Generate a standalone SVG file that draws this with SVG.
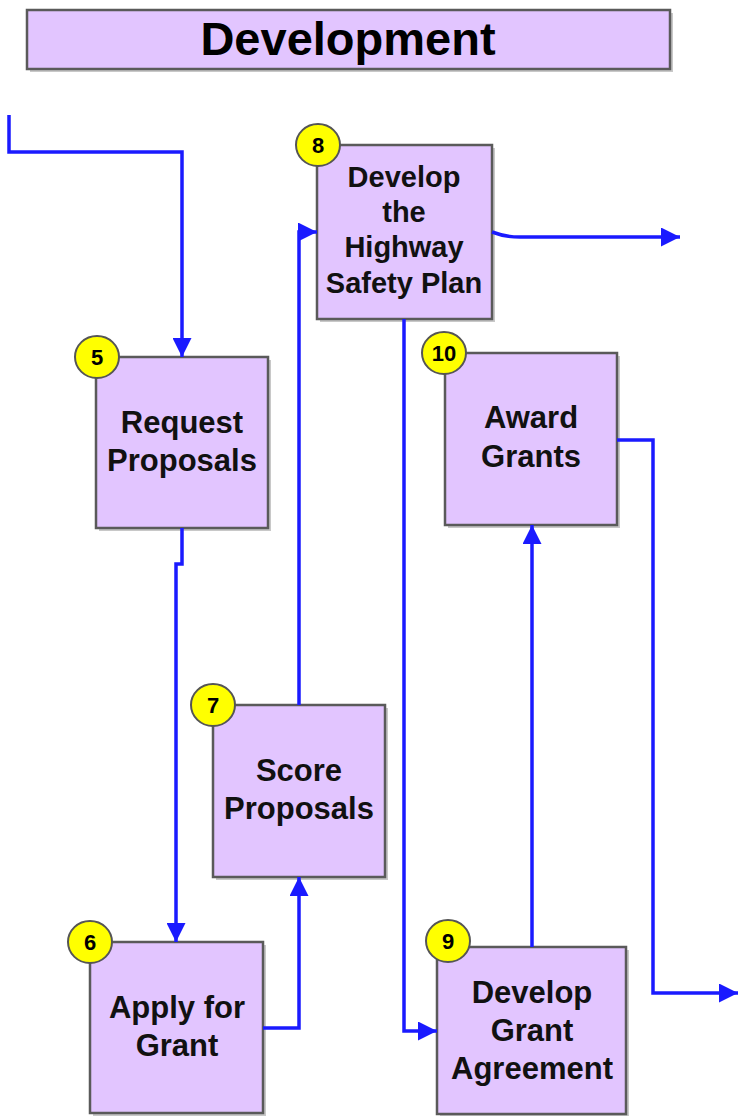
<svg xmlns="http://www.w3.org/2000/svg" width="739" height="1116" viewBox="0 0 739 1116">
<style>
.box{fill:#E2C5FF;stroke:#5a5a5a;stroke-width:2.5}
.shadow{fill:#c8c8c8}
.badge{fill:#FFFF00;stroke:#555;stroke-width:2}
.num{font-family:"Liberation Sans",Arial,sans-serif;font-weight:bold;font-size:22px;fill:#000;text-anchor:middle}
.lbl{font-family:"Liberation Sans",Arial,sans-serif;font-weight:bold;font-size:31px;fill:#111;text-anchor:middle}
.lbl8{font-size:29px}
.title{font-family:"Liberation Sans",Arial,sans-serif;font-weight:bold;font-size:47px;fill:#000;text-anchor:middle}
.conn{fill:none;stroke:#1a1aff;stroke-width:3.5}
</style>
<defs>
<marker id="arr" viewBox="0 0 18 18" refX="18" refY="9" markerWidth="19" markerHeight="19" markerUnits="userSpaceOnUse" orient="auto">
<path d="M0,0 L18,9 L0,18 z" fill="#1a1aff"/>
</marker>
</defs>
<rect width="739" height="1116" fill="#fff"/>
<g id="title">
<rect class="shadow" x="30" y="13" width="643" height="59"/>
<rect class="box" x="27" y="10" width="643" height="59" stroke="#777"/>
<text class="title" x="348" y="55">Development</text>
</g>
<g id="n5">
<rect class="shadow" x="99" y="360" width="172" height="171"/>
<rect class="box" x="96" y="357" width="172" height="171"/>
<text class="lbl" x="182" y="433">Request</text>
<text class="lbl" x="182" y="471">Proposals</text>
<ellipse class="badge" cx="97" cy="357" rx="22" ry="21"/>
<text class="num" x="97" y="365">5</text>
</g>
<g id="n8">
<rect class="shadow" x="320" y="148" width="175" height="174"/>
<rect class="box" x="317" y="145" width="175" height="174"/>
<text class="lbl lbl8" x="404" y="187">Develop</text>
<text class="lbl lbl8" x="404" y="222">the</text>
<text class="lbl lbl8" x="404" y="257">Highway</text>
<text class="lbl lbl8" x="404" y="293">Safety Plan</text>
<ellipse class="badge" cx="318" cy="145" rx="22" ry="21"/>
<text class="num" x="318" y="153">8</text>
</g>
<g id="n10">
<rect class="shadow" x="448" y="356" width="172" height="172"/>
<rect class="box" x="445" y="353" width="172" height="172"/>
<text class="lbl" x="531" y="428">Award</text>
<text class="lbl" x="531" y="467">Grants</text>
<ellipse class="badge" cx="444" cy="353" rx="22" ry="21"/>
<text class="num" x="444" y="361">10</text>
</g>
<g id="n7">
<rect class="shadow" x="216" y="708" width="172" height="172"/>
<rect class="box" x="213" y="705" width="172" height="172"/>
<text class="lbl" x="299" y="781">Score</text>
<text class="lbl" x="299" y="819">Proposals</text>
<ellipse class="badge" cx="213" cy="705" rx="22" ry="21"/>
<text class="num" x="213" y="713">7</text>
</g>
<g id="n6">
<rect class="shadow" x="93" y="945" width="173" height="171"/>
<rect class="box" x="90" y="942" width="173" height="171"/>
<text class="lbl" x="177" y="1018">Apply for</text>
<text class="lbl" x="177" y="1056">Grant</text>
<ellipse class="badge" cx="90" cy="942" rx="22" ry="21"/>
<text class="num" x="90" y="950">6</text>
</g>
<g id="n9">
<rect class="shadow" x="440" y="950" width="189" height="166"/>
<rect class="box" x="437" y="947" width="189" height="167"/>
<text class="lbl" x="532" y="1003">Develop</text>
<text class="lbl" x="532" y="1041">Grant</text>
<text class="lbl" x="532" y="1079">Agreement</text>
<ellipse class="badge" cx="448" cy="941" rx="22" ry="21"/>
<text class="num" x="448" y="949">9</text>
</g>
<g id="connectors">
<path class="conn" d="M9,115 V152 H182 V357" marker-end="url(#arr)"/>
<path class="conn" d="M182,528 V564 H176 V942" marker-end="url(#arr)"/>
<path class="conn" d="M263,1028 H299 V877" marker-end="url(#arr)"/>
<path class="conn" d="M299,705 V232 H317" marker-end="url(#arr)"/>
<path class="conn" d="M492,232 Q505,237 520,237 H680" marker-end="url(#arr)"/>
<path class="conn" d="M404,319 V1031 H437" marker-end="url(#arr)"/>
<path class="conn" d="M532,947 V525" marker-end="url(#arr)"/>
<path class="conn" d="M617,440 H653 V993 H738" marker-end="url(#arr)"/>
</g>
</svg>
